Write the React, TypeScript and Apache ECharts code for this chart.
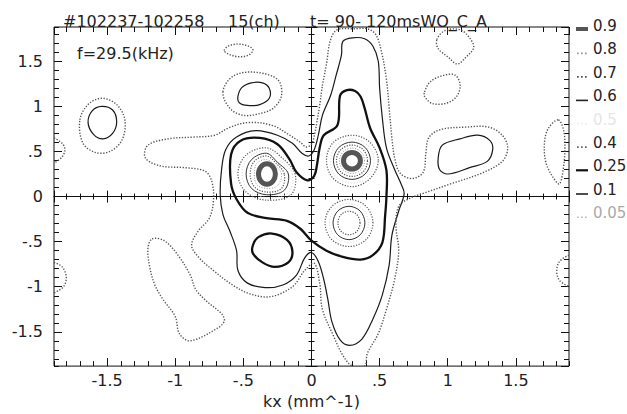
import React, { useEffect, useRef } from 'react';
import * as echarts from 'echarts';

// ---- axis ranges and ticks ----
const X_MIN = -1.89;
const X_MAX = 1.89;
const Y_MIN = -1.88;
const Y_MAX = 1.88;
const MAJOR_TICKS = [-1.5, -1, -0.5, 0, 0.5, 1, 1.5];
const MAJOR_LABELS = ['-1.5', '-1', '-.5', '0', '.5', '1', '1.5'];
const MAJOR_SPLIT = 7;   // -> 0.5 steps
const MINOR_SPLIT = 37;  // -> 0.1 steps

// ---- contour levels (legend order) ----
const LEVELS = ['0.9', '0.8', '0.7', '0.6', '0.5', '0.4', '0.25', '0.1', '0.05'];

// ---- contour traces, [kx, ky] (mm^-1) ----
// level 0.05
const C05_MAIN = [[0.08, 1.23], [0.11, 1.47], [0.14, 1.74], [0.19, 1.85], [0.32, 1.86], [0.41, 1.86], [0.47, 1.80], [0.51, 1.63], [0.55, 1.30], [0.57, 0.98], [0.59, 0.65], [0.61, 0.43], [0.65, 0.26], [0.74, 0.20], [0.82, 0.27], [0.84, 0.49], [0.86, 0.65], [0.94, 0.74], [1.13, 0.77], [1.30, 0.77], [1.40, 0.68], [1.44, 0.54], [1.40, 0.39], [1.25, 0.26], [1.02, 0.14], [0.83, 0.04], [0.72, -0.02], [0.64, -0.11], [0.62, -0.33], [0.64, -0.60], [0.61, -0.92], [0.55, -1.25], [0.49, -1.52], [0.41, -1.74], [0.39, -1.88], [0.30, -1.88], [0.23, -1.76], [0.16, -1.54], [0.08, -1.25], [0.06, -0.96], [0.02, -0.74], [-0.05, -0.82], [-0.14, -1.00], [-0.30, -1.11], [-0.45, -1.08], [-0.58, -0.98], [-0.72, -0.82], [-0.83, -0.67], [-0.88, -0.54], [-0.83, -0.38], [-0.75, -0.24], [-0.72, -0.05], [-0.73, 0.16], [-0.78, 0.28], [-0.93, 0.32], [-1.11, 0.34], [-1.22, 0.43], [-1.20, 0.57], [-1.05, 0.64], [-0.86, 0.66], [-0.71, 0.68], [-0.61, 0.76], [-0.47, 0.82], [-0.29, 0.79], [-0.16, 0.68], [-0.08, 0.60], [-0.04, 0.55], [0.00, 0.58], [0.02, 0.67], [0.04, 0.83], [0.06, 1.01]];
const C05_A = [[-0.64, 1.62], [-0.61, 1.67], [-0.53, 1.69], [-0.45, 1.66], [-0.43, 1.62], [-0.46, 1.57], [-0.53, 1.55], [-0.61, 1.58]];
const C05_B = [[-0.65, 1.16], [-0.58, 1.33], [-0.43, 1.38], [-0.25, 1.30], [-0.22, 1.12], [-0.28, 0.98], [-0.38, 0.92], [-0.50, 0.90], [-0.60, 0.98]];
const C05_C = [[-1.70, 0.85], [-1.64, 1.02], [-1.54, 1.09], [-1.43, 1.02], [-1.37, 0.85], [-1.39, 0.63], [-1.48, 0.50], [-1.59, 0.49], [-1.68, 0.60]];
const C05_D1 = [[-1.89, 0.65], [-1.83, 0.59], [-1.81, 0.52], [-1.83, 0.44], [-1.89, 0.37]];
const C05_D2 = [[-1.89, -0.73], [-1.83, -0.78], [-1.80, -0.89], [-1.82, -1.00], [-1.89, -1.07]];
const C05_E = [[1.81, 0.85], [1.74, 0.76], [1.71, 0.60], [1.72, 0.38], [1.77, 0.22], [1.82, 0.14], [1.85, 0.33], [1.86, 0.54], [1.85, 0.74]];
const C05_F = [[1.89, -0.65], [1.82, -0.72], [1.80, -0.83], [1.82, -0.93], [1.89, -1.00]];
const C05_G = [[0.92, 1.74], [0.98, 1.84], [1.09, 1.85], [1.16, 1.76], [1.19, 1.65], [1.13, 1.54], [1.07, 1.47], [1.00, 1.55], [0.93, 1.64]];
const C05_H = [[0.83, 1.16], [0.87, 1.27], [0.96, 1.34], [1.05, 1.35], [1.09, 1.25], [1.07, 1.12], [1.00, 1.04], [0.89, 1.03], [0.83, 1.11]];
const C05_LL = [[-1.17, -0.47], [-1.08, -0.49], [-0.98, -0.65], [-0.89, -0.87], [-0.85, -1.03], [-0.77, -1.16], [-0.66, -1.30], [-0.64, -1.38], [-0.69, -1.46], [-0.89, -1.60], [-0.97, -1.52], [-1.00, -1.33], [-1.09, -1.14], [-1.15, -0.98], [-1.19, -0.76], [-1.20, -0.57]];
// level 0.1
const C1_MAIN = [[0.23, 1.72], [0.30, 1.76], [0.39, 1.75], [0.45, 1.67], [0.49, 1.50], [0.50, 1.20], [0.52, 0.87], [0.55, 0.54], [0.61, 0.30], [0.66, 0.13], [0.68, 0.03], [0.64, -0.16], [0.59, -0.43], [0.57, -0.76], [0.52, -1.09], [0.45, -1.36], [0.37, -1.58], [0.28, -1.65], [0.21, -1.59], [0.15, -1.39], [0.12, -1.14], [0.09, -0.92], [0.05, -0.72], [0.00, -0.62], [-0.05, -0.68], [-0.11, -0.87], [-0.21, -0.98], [-0.34, -1.01], [-0.47, -0.96], [-0.54, -0.82], [-0.55, -0.60], [-0.60, -0.38], [-0.65, -0.20], [-0.67, 0.02], [-0.66, 0.30], [-0.63, 0.52], [-0.55, 0.66], [-0.41, 0.73], [-0.25, 0.68], [-0.14, 0.59], [-0.07, 0.48], [-0.02, 0.45], [0.02, 0.52], [0.05, 0.68], [0.08, 0.90], [0.14, 1.12], [0.18, 1.34], [0.22, 1.57]];
const C1_B = [[-0.54, 1.11], [-0.51, 1.21], [-0.44, 1.26], [-0.36, 1.26], [-0.31, 1.20], [-0.31, 1.09], [-0.38, 1.02], [-0.47, 1.01], [-0.53, 1.04]];
const C1_C = [[-1.64, 0.82], [-1.61, 0.95], [-1.54, 1.00], [-1.46, 0.96], [-1.43, 0.83], [-1.46, 0.70], [-1.53, 0.64], [-1.60, 0.69]];
const C1_R = [[0.96, 0.57], [1.09, 0.64], [1.22, 0.68], [1.31, 0.62], [1.33, 0.52], [1.29, 0.39], [1.16, 0.32], [1.00, 0.25], [0.94, 0.30], [0.93, 0.43]];
// level 0.25
const C25_MAIN = [[-0.03, 0.18], [-0.11, 0.27], [-0.16, 0.41], [-0.25, 0.58], [-0.38, 0.65], [-0.52, 0.62], [-0.59, 0.47], [-0.59, 0.14], [-0.55, -0.03], [-0.47, -0.18], [-0.33, -0.24], [-0.18, -0.27], [-0.08, -0.36], [0.00, -0.49], [0.11, -0.60], [0.23, -0.67], [0.36, -0.70], [0.45, -0.65], [0.52, -0.51], [0.54, -0.22], [0.55, 0.00], [0.55, 0.29], [0.50, 0.54], [0.43, 0.76], [0.39, 0.98], [0.36, 1.11], [0.32, 1.17], [0.26, 1.18], [0.21, 1.12], [0.19, 0.79], [0.09, 0.68], [0.06, 0.54], [0.04, 0.35], [0.02, 0.23]];
const C25_BL = [[-0.43, -0.54], [-0.39, -0.45], [-0.29, -0.41], [-0.18, -0.48], [-0.14, -0.61], [-0.17, -0.73], [-0.27, -0.78], [-0.36, -0.73], [-0.43, -0.63]];
// level 0.4
const C4_L = [[-0.12, 0.25], [-0.21, 0.42], [-0.33, 0.54], [-0.48, 0.46], [-0.54, 0.25], [-0.48, 0.05], [-0.33, -0.04], [-0.15, 0.02]];
const C4_R = [[0.49, 0.40], [0.43, 0.60], [0.30, 0.68], [0.16, 0.60], [0.11, 0.40], [0.16, 0.20], [0.30, 0.11], [0.43, 0.20]];
const C4_D = [[0.451, -0.293], [0.400, -0.108], [0.275, -0.032], [0.150, -0.108], [0.099, -0.293], [0.150, -0.478], [0.275, -0.554], [0.400, -0.478]];
// level 0.5
const C5_L = [[-0.14, 0.25], [-0.23, 0.40], [-0.33, 0.51], [-0.46, 0.44], [-0.51, 0.25], [-0.46, 0.07], [-0.33, -0.01], [-0.17, 0.04]];
const C5_R = [[0.46, 0.40], [0.41, 0.57], [0.30, 0.64], [0.18, 0.57], [0.14, 0.40], [0.18, 0.22], [0.30, 0.15], [0.41, 0.22]];
const C5_D = [[0.418, -0.293], [0.377, -0.139], [0.275, -0.076], [0.173, -0.139], [0.132, -0.293], [0.173, -0.447], [0.275, -0.510], [0.377, -0.447]];
// level 0.6
const C6_L = [[-0.17, 0.25], [-0.25, 0.38], [-0.33, 0.48], [-0.44, 0.41], [-0.48, 0.25], [-0.44, 0.09], [-0.33, 0.02], [-0.20, 0.07]];
const C6_R = [[0.433, 0.397], [0.394, 0.544], [0.297, 0.604], [0.200, 0.544], [0.161, 0.397], [0.200, 0.250], [0.297, 0.190], [0.394, 0.250]];
const C6_D = [[0.392, -0.293], [0.358, -0.162], [0.275, -0.108], [0.192, -0.162], [0.158, -0.293], [0.192, -0.424], [0.275, -0.478], [0.358, -0.424]];
// level 0.7
const C7_L = [[-0.20, 0.25], [-0.26, 0.37], [-0.33, 0.45], [-0.42, 0.39], [-0.45, 0.25], [-0.42, 0.11], [-0.33, 0.05], [-0.22, 0.09]];
const C7_R = [[0.411, 0.397], [0.378, 0.521], [0.297, 0.571], [0.216, 0.521], [0.183, 0.397], [0.216, 0.273], [0.297, 0.223], [0.378, 0.273]];
const C7_D = [[0.356, -0.293], [0.333, -0.201], [0.275, -0.163], [0.217, -0.201], [0.194, -0.293], [0.217, -0.385], [0.275, -0.423], [0.333, -0.385]];
// level 0.8
const C8_L = [[-0.22, 0.25], [-0.27, 0.35], [-0.33, 0.41], [-0.40, 0.37], [-0.42, 0.25], [-0.40, 0.13], [-0.33, 0.09], [-0.25, 0.12]];
const C8_R = [[0.389, 0.397], [0.362, 0.497], [0.297, 0.538], [0.232, 0.497], [0.205, 0.397], [0.232, 0.297], [0.297, 0.256], [0.362, 0.297]];
// level 0.9
const C9_L = [[-0.265, 0.25], [-0.283, 0.33], [-0.327, 0.364], [-0.371, 0.33], [-0.389, 0.25], [-0.371, 0.17], [-0.327, 0.136], [-0.283, 0.17]];
const C9_R = [[0.359, 0.397], [0.341, 0.462], [0.297, 0.489], [0.253, 0.462], [0.235, 0.397], [0.253, 0.332], [0.297, 0.305], [0.341, 0.332]];

const closed = (pts) => ({ closed: true, pts });
const open = (pts) => ({ closed: false, pts });

const CONTOURS = {
  '0.05': [closed(C05_MAIN), closed(C05_A), closed(C05_B), closed(C05_C), open(C05_D1), open(C05_D2), closed(C05_E), open(C05_F), closed(C05_G), closed(C05_H), closed(C05_LL)],
  '0.1': [closed(C1_MAIN), closed(C1_B), closed(C1_C), closed(C1_R)],
  '0.25': [closed(C25_MAIN), closed(C25_BL)],
  '0.4': [closed(C4_L), closed(C4_R), closed(C4_D)],
  '0.5': [closed(C5_L), closed(C5_R), closed(C5_D)],
  '0.6': [closed(C6_L), closed(C6_R), closed(C6_D)],
  '0.7': [closed(C7_L), closed(C7_R), closed(C7_D)],
  '0.8': [closed(C8_L), closed(C8_R)],
  '0.9': [closed(C9_L), closed(C9_R)],
};

// ---- styles ----
const FONT = '"DejaVu Sans", "Noto Sans", sans-serif';
const LEVEL_STYLE = {
  '0.05': { color: '#555', width: 1.4, dash: [1.3, 1.6] },
  '0.1': { color: '#1a1a1a', width: 1.2, dash: null },
  '0.25': { color: '#111', width: 2.3, dash: null },
  '0.4': { color: '#555', width: 1.2, dash: [1.2, 1.5] },
  '0.5': { color: '#d8d8d8', width: 1, dash: [1, 2] },
  '0.6': { color: '#333', width: 1, dash: null },
  '0.7': { color: '#555', width: 1.2, dash: [1.2, 1.4] },
  '0.8': { color: '#999', width: 1, dash: [1, 1.6] },
  '0.9': { color: '#555', width: 5, dash: null },
};
const DOTS = 'path://M0,0M12,10M1,8.2h1.7v1.7h-1.7zM5,8.2h1.7v1.7h-1.7zM9,8.2h1.7v1.7h-1.7z';
const LEGEND_STYLE = {
  '0.9': { icon: 'path://M0,0M12,10M0,6h12v4h-12z', color: '#555', text: '#222' },
  '0.8': { icon: DOTS, color: '#999', text: '#222' },
  '0.7': { icon: DOTS, color: '#555', text: '#222' },
  '0.6': { icon: 'path://M0,0M12,10M0,8.4h12v1.6h-12z', color: '#222', text: '#222' },
  '0.5': { icon: DOTS, color: '#eee', text: '#e6e6e6' },
  '0.4': { icon: DOTS, color: '#666', text: '#222' },
  '0.25': { icon: 'path://M0,0M12,10M0,7.8h12v2.2h-12z', color: '#111', text: '#222' },
  '0.1': { icon: 'path://M0,0M12,10M0,8.4h12v1.6h-12z', color: '#222', text: '#222' },
  '0.05': { icon: DOTS, color: '#bbb', text: '#aaa' },
};

const AX_COLOR = '#111';
function makeAxis(o) {
  const axisLine = { show: !!o.line, onZero: !!o.onZero, lineStyle: { color: AX_COLOR, width: 1 } };
  if (o.onZero) axisLine.onZeroAxisIndex = 0;
  return Object.assign({
    type: 'value', min: o.min, max: o.max, position: o.position,
    splitNumber: o.split,
    axisLine,
    axisTick: { show: true, inside: o.inside, length: o.len, lineStyle: { color: AX_COLOR, width: 1 } },
    axisLabel: o.label || { show: false },
    splitLine: { show: false },
  }, o.extra || {});
}

function labelFor(v) {
  const i = MAJOR_TICKS.findIndex((t) => Math.abs(t - v) < 1e-6);
  return i >= 0 ? MAJOR_LABELS[i] : '';
}

function axesFor(min, max, lowPos, highPos, label, extra) {
  return [
    makeAxis({ min, max, position: lowPos, inside: true, len: 8, split: MAJOR_SPLIT, label, extra }),
    makeAxis({ min, max, position: lowPos, inside: true, len: 5, split: MINOR_SPLIT }),
    makeAxis({ min, max, position: highPos, inside: true, len: 8, split: MAJOR_SPLIT }),
    makeAxis({ min, max, position: highPos, inside: true, len: 5, split: MINOR_SPLIT }),
    makeAxis({ min, max, position: lowPos, onZero: true, line: true, inside: true, len: 6, split: MAJOR_SPLIT }),
    makeAxis({ min, max, position: lowPos, onZero: true, inside: false, len: 6, split: MAJOR_SPLIT }),
    makeAxis({ min, max, position: lowPos, onZero: true, inside: true, len: 3, split: MINOR_SPLIT }),
    makeAxis({ min, max, position: lowPos, onZero: true, inside: false, len: 3, split: MINOR_SPLIT }),
  ];
}

export default function App() {
  const ref = useRef(null);
  useEffect(() => {
    document.body.style.margin = '0';
    const chart = echarts.init(ref.current, null, { renderer: 'svg' });
    const series = LEVELS.map((lv) => {
      const list = CONTOURS[lv];
      const st = LEVEL_STYLE[lv];
      return {
        type: 'custom',
        name: lv,
        coordinateSystem: 'cartesian2d',
        xAxisIndex: 0,
        yAxisIndex: 0,
        clip: true,
        silent: true,
        data: list.map(() => [0, 0]),
        renderItem: (params, api) => {
          const c = list[params.dataIndex];
          const points = c.pts.map((p) => api.coord(p));
          return {
            type: c.closed ? 'polygon' : 'polyline',
            shape: { points, smooth: 0.35 },
            style: { fill: 'none', stroke: st.color, lineWidth: st.width, lineDash: st.dash, lineCap: 'butt' },
          };
        },
      };
    });

    const xLabel = {
      show: true, formatter: (v) => labelFor(v), showMinLabel: false, showMaxLabel: false,
      fontFamily: FONT, fontSize: 16, color: '#222', margin: 6,
    };
    const yLabel = {
      show: true, formatter: (v) => labelFor(v), showMinLabel: false, showMaxLabel: false,
      fontFamily: FONT, fontSize: 16, color: '#222', margin: 11, verticalAlign: 'middle', padding: [0, 0, 8, 0],
    };

    chart.setOption({
      animation: false,
      backgroundColor: '#fff',
      grid: { left: 54, right: 58, top: 27, bottom: 41, show: true, borderColor: AX_COLOR, borderWidth: 1, containLabel: false },
      xAxis: axesFor(X_MIN, X_MAX, 'bottom', 'top', xLabel, {
        name: 'kx (mm^-1)', nameLocation: 'middle', nameGap: 24,
        nameTextStyle: { fontFamily: FONT, fontSize: 16, color: '#222' },
      }),
      yAxis: axesFor(Y_MIN, Y_MAX, 'left', 'right', yLabel, null),
      legend: {
        orient: 'vertical', left: 571, top: 13, itemWidth: 12, itemHeight: 10, itemGap: 7.4,
        selectedMode: false,
        textStyle: { fontFamily: FONT, fontSize: 15, lineHeight: 16, color: '#222' },
        data: LEVELS.map((lv) => ({
          name: lv,
          icon: LEGEND_STYLE[lv].icon,
          itemStyle: { color: LEGEND_STYLE[lv].color, borderWidth: 0 },
          textStyle: { color: LEGEND_STYLE[lv].text },
        })),
      },
      graphic: [
        { type: 'text', x: 63, y: 21.5, style: { text: '#102237-102258', fontFamily: FONT, fontSize: 16, fill: '#222', verticalAlign: 'middle' } },
        { type: 'text', x: 228, y: 21.5, style: { text: '15(ch)', fontFamily: FONT, fontSize: 16, fill: '#222', verticalAlign: 'middle' } },
        { type: 'text', x: 310, y: 21.5, style: { text: 't= 90- 120msWO_C_A', fontFamily: FONT, fontSize: 16, fill: '#222', verticalAlign: 'middle' } },
        { type: 'text', x: 77, y: 53.5, style: { text: 'f=29.5(kHz)', fontFamily: FONT, fontSize: 16, fill: '#222', verticalAlign: 'middle' } },
      ],
      series,
    });
    return () => chart.dispose();
  }, []);
  return <div ref={ref} style={{ position: 'fixed', left: 0, top: 0, width: 627, height: 414, background: '#fff' }} />;
}
